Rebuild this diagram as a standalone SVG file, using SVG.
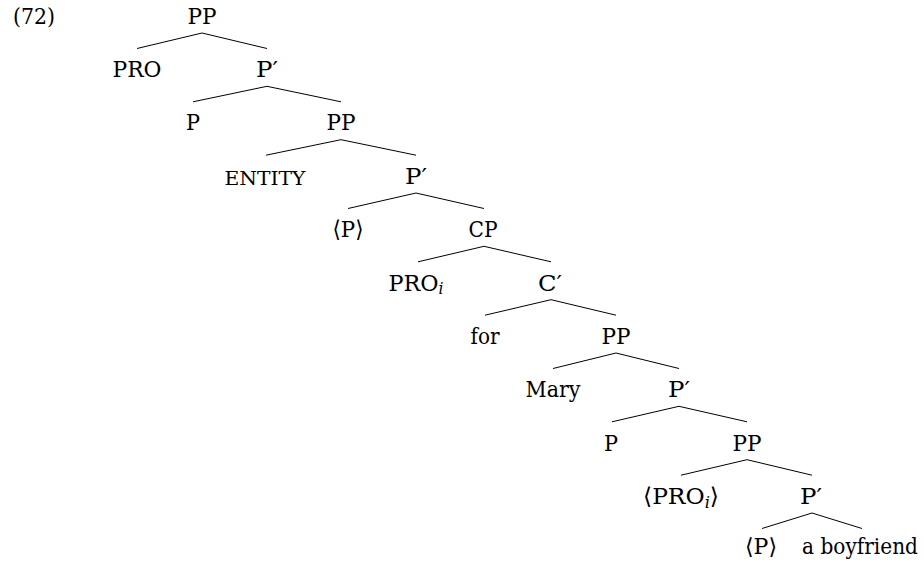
<svg xmlns="http://www.w3.org/2000/svg" width="924" height="562" viewBox="0 0 924 562">
<style>
text{font-family:"DejaVu Serif","Liberation Serif",serif;font-size:23px;fill:#000;text-anchor:middle}
.num{text-anchor:start}
.sc{font-size:19px}
.sub{font-style:italic;font-size:16px}
.last{font-size:22px}
#edges line{stroke:#000;stroke-width:1}
</style>
<rect width="924" height="562" fill="#fff"/>
<text class="num" x="13" y="24" textLength="42" lengthAdjust="spacingAndGlyphs">(72)</text>
<g id="edges">
<line x1="202" y1="33" x2="137" y2="48.5"/><line x1="202" y1="33" x2="267" y2="48.5"/>
<line x1="267" y1="86.3" x2="193" y2="101.8"/><line x1="267" y1="86.3" x2="341" y2="101.8"/>
<line x1="341" y1="139.7" x2="266" y2="155.2"/><line x1="341" y1="139.7" x2="416" y2="155.2"/>
<line x1="416" y1="193" x2="348" y2="208.5"/><line x1="416" y1="193" x2="484" y2="208.5"/>
<line x1="484" y1="246.3" x2="418" y2="261.8"/><line x1="484" y1="246.3" x2="551" y2="261.8"/>
<line x1="551" y1="299.7" x2="485" y2="315.2"/><line x1="551" y1="299.7" x2="616" y2="315.2"/>
<line x1="616" y1="353" x2="553" y2="368.5"/><line x1="616" y1="353" x2="679" y2="368.5"/>
<line x1="679" y1="406.3" x2="612" y2="421.8"/><line x1="679" y1="406.3" x2="747" y2="421.8"/>
<line x1="747" y1="459.7" x2="681" y2="475.2"/><line x1="747" y1="459.7" x2="812" y2="475.2"/>
<line x1="812" y1="513" x2="762" y2="528.5"/><line x1="812" y1="513" x2="862" y2="528.5"/>
</g>
<g id="n0"><text x="202" y="24" textLength="29" lengthAdjust="spacingAndGlyphs">PP</text></g>
<g id="n1"><text x="137" y="77" textLength="49" lengthAdjust="spacingAndGlyphs">PRO</text></g>
<g id="n2"><text x="267" y="77" textLength="22" lengthAdjust="spacingAndGlyphs">P′</text></g>
<g id="n3"><text x="193" y="130.4" textLength="14" lengthAdjust="spacingAndGlyphs">P</text></g>
<g id="n4"><text x="341" y="130.4" textLength="29" lengthAdjust="spacingAndGlyphs">PP</text></g>
<g id="n5"><text class="sc" x="265" y="184.5" textLength="81" lengthAdjust="spacingAndGlyphs">ENTITY</text></g>
<g id="n6"><text x="416" y="184" textLength="22" lengthAdjust="spacingAndGlyphs">P′</text></g>
<g id="n7"><text x="348" y="237.3" textLength="31" lengthAdjust="spacingAndGlyphs">⟨P⟩</text></g>
<g id="n8"><text x="483" y="237.3" textLength="29" lengthAdjust="spacingAndGlyphs">CP</text></g>
<g id="n9"><text x="416" y="290.7" textLength="55" lengthAdjust="spacingAndGlyphs">PRO<tspan class="sub" dy="3.75">i</tspan></text></g>
<g id="n10"><text x="550" y="290.7" textLength="24" lengthAdjust="spacingAndGlyphs">C′</text></g>
<g id="n11"><text x="485" y="344" textLength="29" lengthAdjust="spacingAndGlyphs">for</text></g>
<g id="n12"><text x="616" y="344" textLength="29" lengthAdjust="spacingAndGlyphs">PP</text></g>
<g id="n13"><text x="553" y="397.3" textLength="55" lengthAdjust="spacingAndGlyphs">Mary</text></g>
<g id="n14"><text x="679" y="397.3" textLength="22" lengthAdjust="spacingAndGlyphs">P′</text></g>
<g id="n15"><text x="611" y="450.7" textLength="14" lengthAdjust="spacingAndGlyphs">P</text></g>
<g id="n16"><text x="747" y="450.7" textLength="29" lengthAdjust="spacingAndGlyphs">PP</text></g>
<g id="n17"><text x="681" y="504" textLength="76" lengthAdjust="spacingAndGlyphs">⟨PRO<tspan class="sub" dy="3.75">i</tspan><tspan dy="-3.75">⟩</tspan></text></g>
<g id="n18"><text x="811" y="504" textLength="22" lengthAdjust="spacingAndGlyphs">P′</text></g>
<g id="n19"><text class="last" x="761" y="554" textLength="32" lengthAdjust="spacingAndGlyphs">⟨P⟩</text></g>
<g id="n20"><text class="last" x="860" y="554" textLength="116" lengthAdjust="spacingAndGlyphs">a boyfriend</text></g>
</svg>
